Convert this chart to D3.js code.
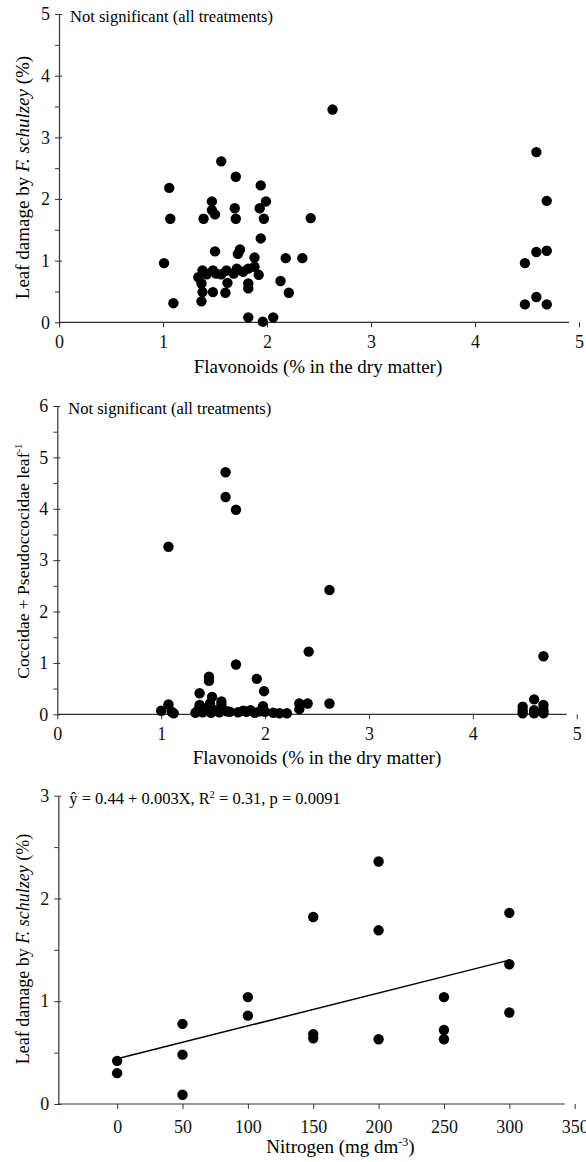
<!DOCTYPE html>
<html>
<head>
<meta charset="utf-8">
<script src="https://cdn.jsdelivr.net/npm/d3@7"></script>
<style>
  body { margin: 0; background: #fff; }
  svg { display: block; font-family: "Liberation Serif", "DejaVu Serif", serif; }
  .axis { font-family: "Liberation Serif", serif; }
  .tick text { font-size: 18px; fill: #111; }
  .axis path, .axis line { stroke: #333; }
</style>
</head>
<body>
<svg width="586" height="1162"></svg>
<script>
// panel 1: leaf damage vs flavonoids
const flav1 = [1.01, 1.06, 1.07, 1.10, 1.34, 1.37, 1.38, 1.37, 1.38, 1.39,
  1.47, 1.47, 1.50, 1.50, 1.48, 1.51, 1.48, 1.56, 1.56, 1.60,
  1.62, 1.61, 1.70, 1.69, 1.70, 1.72, 1.74, 1.68, 1.71, 1.77,
  1.82, 1.82, 1.82, 1.82, 1.88, 1.88, 1.92, 1.94, 1.93, 1.94,
  1.99, 1.97, 1.96, 2.06, 2.13, 2.18, 2.21, 2.34, 2.42, 2.63,
  4.59, 4.69, 4.59, 4.69, 4.48, 4.59, 4.48, 4.69, 1.42];
const damage1 = [0.96, 2.18, 1.68, 0.31, 0.73, 0.63, 0.49, 0.34, 0.84, 1.68,
  1.96, 1.82, 1.75, 1.15, 0.84, 0.79, 0.49, 2.61, 0.78, 0.48,
  0.64, 0.84, 2.36, 1.85, 1.68, 1.11, 1.18, 0.79, 0.87, 0.82,
  0.87, 0.63, 0.55, 0.08, 1.05, 0.90, 0.77, 1.36, 1.85, 2.22,
  1.96, 1.68, 0.01, 0.08, 0.67, 1.04, 0.48, 1.04, 1.69, 3.45,
  2.76, 1.97, 1.14, 1.16, 0.96, 0.41, 0.29, 0.29, 0.78];

// panel 2: scale insects vs flavonoids
const flav2 = [1.07, 1.62, 1.62, 1.72, 1.72, 1.46, 1.46, 1.92, 1.99, 1.37,
  1.49, 1.07, 1.00, 1.10, 1.37, 1.47, 1.58, 1.58, 1.98, 1.33,
  1.40, 1.48, 1.56, 1.66, 1.74, 1.82, 1.90, 2.00, 2.08, 2.14,
  2.21, 2.33, 2.33, 2.41, 2.62, 2.62, 2.42, 4.68, 4.48, 4.48,
  4.48, 4.59, 4.59, 4.59, 4.68, 4.68, 4.68, 1.52, 1.63, 1.79,
  1.12, 1.86, 1.95, 1.36, 1.44];
const insects2 = [3.26, 4.71, 4.23, 3.98, 0.97, 0.73, 0.65, 0.69, 0.45, 0.41,
  0.34, 0.19, 0.07, 0.05, 0.18, 0.21, 0.25, 0.19, 0.16, 0.03,
  0.04, 0.03, 0.04, 0.05, 0.04, 0.05, 0.03, 0.05, 0.03, 0.02,
  0.02, 0.21, 0.10, 0.21, 0.21, 2.42, 1.22, 1.13, 0.15, 0.08,
  0.02, 0.29, 0.08, 0.02, 0.18, 0.08, 0.02, 0.08, 0.06, 0.07,
  0.02, 0.08, 0.06, 0.10, 0.12];

// panel 3: leaf damage vs nitrogen
const nitrogen3 = [0, 0, 50, 50, 50, 100, 100, 150, 150, 150,
  200, 200, 200, 250, 250, 250, 300, 300, 300];
const damage3 = [0.42, 0.30, 0.78, 0.48, 0.09, 1.04, 0.86, 1.82, 0.68, 0.64,
  2.36, 1.69, 0.63, 1.04, 0.72, 0.63, 1.86, 1.36, 0.89];
const fitX3 = [0, 300];
const fitY3 = [0.44, 1.40];

const xTicksFlav = [0, 1, 2, 3, 4, 5];
const yTicks1 = [0, 1, 2, 3, 4, 5];
const yTicks2 = [0, 1, 2, 3, 4, 5, 6];
const xTicks3 = [0, 50, 100, 150, 200, 250, 300, 350];
const yTicks3 = [0, 1, 2, 3];

const svg = d3.select("svg");
const fmt = d3.format("d");

function drawPanel(p) {
  const x = d3.scaleLinear().domain(p.xDomain).range([p.left, p.right]);
  const y = d3.scaleLinear().domain(p.yDomain).range([p.bottom, p.top]);
  const g = svg.append("g");

  // minor y ticks every 0.5
  const minor = d3.range(p.yDomain[0], p.yDomain[1] + 0.01, 0.5)
    .filter(v => !p.yTicks.includes(v));
  g.append("g").attr("class", "axis")
    .attr("transform", `translate(${p.left},0)`)
    .call(d3.axisLeft(y).tickValues(minor).tickSize(4).tickFormat(""))
    .call(a => a.select(".domain").remove());

  // y axis
  g.append("g").attr("class", "axis")
    .attr("transform", `translate(${p.left},0)`)
    .call(d3.axisLeft(y).tickValues(p.yTicks).tickSize(4).tickSizeOuter(0)
      .tickPadding(5).tickFormat(fmt))
    .attr("font-family", null)
    .call(a => a.selectAll(".tick line").attr("x1", 3))
    .call(a => a.select(".domain").attr("stroke-width", 1.2));

  // x axis: line stops short of the last tick
  const xa = g.append("g").attr("class", "axis")
    .attr("transform", `translate(0,${p.bottom})`)
    .call(d3.axisBottom(x).tickValues(p.xTicks).tickSize(5)
      .tickPadding(p.xPad).tickFormat(fmt))
    .attr("font-family", null)
    .call(a => a.select(".domain").remove());
  xa.append("line")
    .attr("x1", p.left).attr("x2", p.right - 10)
    .attr("stroke", "#333").attr("stroke-width", 1.2);

  // fit line
  if (p.fitX) {
    g.append("path")
      .datum(d3.zip(p.fitX, p.fitY))
      .attr("fill", "none").attr("stroke", "#000").attr("stroke-width", 1.5)
      .attr("d", d3.line().x(d => x(d[0])).y(d => y(d[1])));
  }

  // points
  g.append("g").selectAll("circle")
    .data(d3.zip(p.xs, p.ys))
    .join("circle")
    .attr("cx", d => x(d[0]))
    .attr("cy", d => y(d[1]))
    .attr("r", 5.2)
    .attr("fill", "#000");

  // annotation
  g.append("text")
    .attr("x", p.left + 11).attr("y", p.top + 8)
    .attr("font-size", 16.5)
    .html(p.note);

  // axis titles
  g.append("text")
    .attr("x", (p.left + p.right) / 2 + p.xTitleShift)
    .attr("y", p.bottom + p.xTitleOffset)
    .attr("text-anchor", "middle").attr("font-size", 19)
    .html(p.xTitle);

  g.append("text")
    .attr("transform", `translate(29,${p.yTitleCenter}) rotate(-90)`)
    .attr("text-anchor", "middle").attr("font-size", p.yTitleSize)
    .html(p.yTitle);
}

const damageTitle = 'Leaf damage by <tspan font-style="italic">F. schulzey</tspan> (%)';

drawPanel({
  xs: flav1, ys: damage1,
  xDomain: [0, 5], yDomain: [0, 5], xTicks: xTicksFlav, yTicks: yTicks1,
  left: 59, right: 579, top: 14, bottom: 322.3, xPad: 8,
  note: "Not significant (all treatments)",
  xTitle: "Flavonoids (% in the dry matter)", xTitleShift: -1, xTitleOffset: 51,
  yTitle: damageTitle, yTitleCenter: 177.5, yTitleSize: 19
});

drawPanel({
  xs: flav2, ys: insects2,
  xDomain: [0, 5], yDomain: [0, 6], xTicks: xTicksFlav, yTicks: yTicks2,
  left: 57.3, right: 576.7, top: 406, bottom: 714.3, xPad: 8,
  note: "Not significant (all treatments)",
  xTitle: "Flavonoids (% in the dry matter)", xTitleShift: 0, xTitleOffset: 50,
  yTitle: 'Coccidae + Pseudoccocidae leaf<tspan dy="-7" font-size="11">-1</tspan>',
  yTitleCenter: 561, yTitleSize: 17.5
});

drawPanel({
  xs: nitrogen3, ys: damage3, fitX: fitX3, fitY: fitY3,
  xDomain: [-45, 350], yDomain: [0, 3], xTicks: xTicks3, yTicks: yTicks3,
  left: 58.3, right: 574.7, top: 795.7, bottom: 1104, xPad: 11,
  note: 'ŷ = 0.44 + 0.003X, R<tspan dy="-6" font-size="10">2</tspan><tspan dy="6"> = 0.31, p = 0.0091</tspan>',
  xTitle: 'Nitrogen (mg dm<tspan dy="-7" font-size="12">-3</tspan><tspan dy="7">)</tspan>',
  xTitleShift: 24, xTitleOffset: 49,
  yTitle: damageTitle, yTitleCenter: 949, yTitleSize: 18
});
</script>
</body>
</html>
